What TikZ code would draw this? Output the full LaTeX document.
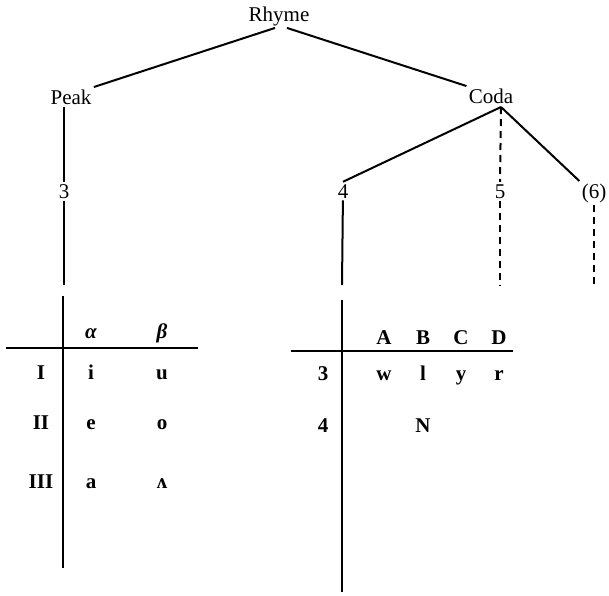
\documentclass[tikz,border=0pt]{standalone}
\usepackage{fontspec}
\setmainfont{Liberation Serif}
\usepackage{tikz}
\usetikzlibrary{positioning}

\begin{document}
\begin{tikzpicture}[x=0.5pt,y=-0.5pt]
\tikzstyle{lab}=[anchor=base,inner sep=1pt,font=\fontsize{10.5}{12}\selectfont]
\tikzstyle{cell}=[lab,font=\fontsize{10.5}{12}\selectfont\bfseries]
\tikzstyle{branch}=[line width=1pt]
\tikzstyle{opt}=[branch,dash pattern=on 3.5pt off 2.5pt]
\tikzstyle{rule}=[line width=1.4pt]

\useasboundingbox (0,0) rectangle (609,595);

% the rhyme tree
\node[lab] (rhyme) at (279,21) {Rhyme};
\node[lab] (peak) at (71,104) {Peak};
\node[lab] (coda) at (491,103) {Coda};
\node[lab] (s3) at (64,198) {3};
\node[lab] (s4) at (343,198) {4};
\node[lab] (s5) at (500,198) {5};
\node[lab] (s6) at (594,198) {(6)};
\coordinate (cj) at (501,107);
\coordinate (e3) at (64,285);
\coordinate (e4) at (342,285);
\coordinate (e5) at (500,285);
\coordinate (e6) at (594,285);

\draw[branch] ([xshift=-2pt]rhyme.south) -- (peak.north east);
\draw[branch] ([xshift=4pt]rhyme.south) -- (coda.north west);
\draw[branch] (s3.north |- peak.south) -- (s3.north);
\draw[branch] (cj) -- (s4.north);
\draw[opt] (cj) -- (s5.north);
\draw[branch] (cj) -- (s6.north west);
\draw[branch] (s3) -- (e3);
\draw[branch] (s4) -- (e4);
\draw[opt] (s5) -- (e5);
\draw[opt] (s6) -- (e6);

% vowels
\coordinate (vt) at (63,296);
\coordinate (vb) at (63,568);
\coordinate (vl) at (6,348);
\coordinate (vr) at (198,348);
\draw[rule] (vt) -- (vb);
\draw[rule] (vl) -- (vr);
\node[cell] (al) at (91,338) {\itshape α};
\node[cell] (be) at (162,338) {\itshape β};
\node[cell] (v1) at (41,379) {I};
\node[cell] (vi) at (91,379) {i};
\node[cell] (vu) at (162,379) {u};
\node[cell] (v2) at (41,429) {II};
\node[cell] (ve) at (91,429) {e};
\node[cell] (vo) at (162,429) {o};
\node[cell] (v3) at (41,488) {III};
\node[cell] (va) at (91,488) {a};
\node[cell] (vv) at (162,488) {ʌ};

% consonants
\coordinate (ct) at (342,300);
\coordinate (cb) at (342,592);
\coordinate (cl) at (291,351);
\coordinate (cr) at (513,351);
\draw[rule] (ct) -- (cb);
\draw[rule] (cl) -- (cr);
\node[cell] (ca) at (384,344) {A};
\node[cell] (cB) at (423,344) {B};
\node[cell] (cc) at (461,344) {C};
\node[cell] (cd) at (499,344) {D};
\node[cell] (c3) at (323,380) {3};
\node[cell] (cw) at (384,380) {w};
\node[cell] (cL) at (423,380) {l};
\node[cell] (cy) at (461,380) {y};
\node[cell] (cR) at (499,380) {r};
\node[cell] (c4) at (323,432) {4};
\node[cell] (cN) at (423,432) {N};
\end{tikzpicture}
\end{document}
